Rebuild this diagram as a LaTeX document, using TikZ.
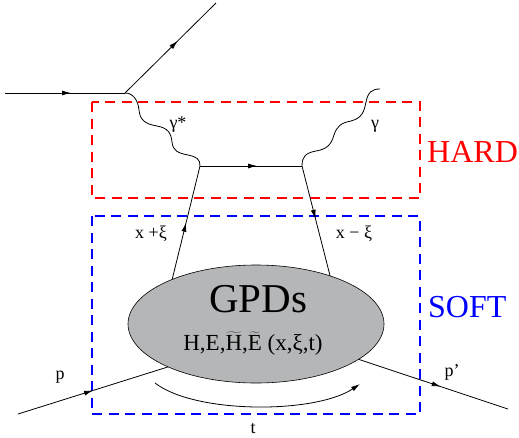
\documentclass[tikz,border=0pt]{standalone}
\usepackage{fontspec}
\setmainfont{Liberation Serif}
\usetikzlibrary{arrows.meta,decorations.markings,shapes.geometric}
\definecolor{gpdgray}{RGB}{180,182,184}
\begin{document}
\begin{tikzpicture}[x=1pt,y=-1pt,
  line/.style={line width=0.8pt, draw=black},
  midarrow/.style={postaction={decorate},decoration={markings,mark=at position #1 with {\arrow{Latex[length=9pt,width=5pt]}}}},
  midarrow/.default=0.55,
  hardbox/.style={draw=red, line width=2pt, dash pattern=on 10pt off 6.5pt},
  softbox/.style={draw=blue, line width=2pt, dash pattern=on 10pt off 6.5pt},
  lbl/.style={font=\fontsize{18}{21}\selectfont, inner sep=0pt, anchor=base},
  bigtxt/.style={inner sep=0pt, anchor=base west, font=\fontsize{32}{36}\selectfont}
]
\useasboundingbox (0,0) rectangle (519,437);

% regions
\draw[hardbox] (92,102) rectangle (420,198);
\draw[softbox] (92,216) rectangle (420,414);
\node[bigtxt, text=red] (hard) at (427,162) {HARD};
\node[bigtxt, text=blue] (soft) at (428,317) {SOFT};

% blob
\node[ellipse, draw, line width=0.6pt, fill=gpdgray, minimum width=256pt, minimum height=118pt, inner sep=0pt, outer sep=0pt] (gpd) at (256,324) {};
\node[inner sep=0pt, anchor=base, font=\fontsize{41}{45}\selectfont] (gt) at (258,312) {\smash{GPDs}};
\node[inner sep=0pt, anchor=base, font=\fontsize{23}{26}\selectfont] (gf) at (253,350) {H,E,\smash{$\widetilde{\hbox{H}}$},\smash{$\widetilde{\hbox{E}}$} (x,ξ,t)};

% points
\coordinate (ein) at (5,93);
\coordinate (ev) at (125,93);
\coordinate (eout) at (216,3);
\coordinate (qa) at (200,166);
\coordinate (qb) at (302,166);
\coordinate (gend) at (380,89);
\coordinate (pin) at (18,414);
\coordinate (pout) at (508,409);
\coordinate (tl) at (155,383);
\coordinate (tr) at (360,384);

% lepton
\draw[line, midarrow=0.55] (ein) -- (ev);
\draw[line, midarrow=0.58] (ev) -- (eout);
% virtual photon
\draw[line] (ev) .. controls (133,93) and (138,100) .. (139,110)
  .. controls (140,120) and (145,124) .. (157,126)
  .. controls (168,128) and (171,133) .. (172,142)
  .. controls (173,151) and (178,153) .. (188,155)
  .. controls (197,157) and (200,159) .. (qa);
% real photon
\draw[line] (qb) .. controls (302,156) and (306,153) .. (316,151)
  .. controls (327,149) and (331,145) .. (334,135)
  .. controls (337,126) and (341,123) .. (351,121)
  .. controls (362,118) and (364,112) .. (366,102)
  .. controls (368,92) and (372,89) .. (gend);
% quarks
\draw[line, midarrow=0.56] (qa) -- (qb);
\draw[line, midarrow=0.5] (gpd.152.6) -- (qa);
\draw[line, midarrow=0.48] (qb) -- (gpd.33);
% protons
\draw[line, midarrow=0.5] (pin) -- (gpd.206);
\draw[line, midarrow=0.55] (gpd.341) -- (pout);
% t arc
\draw[line, -{Latex[length=9pt,width=5pt]}] (tl) .. controls (195,414) and (315,414) .. (tr);

% labels
\node[lbl] (lxp) at (151,238) {x +ξ};
\node[lbl] (lxm) at (354,238) {x − ξ};
\node[lbl] (lgs) at (178,128) {γ*};
\node[lbl] (lg) at (375,128) {γ};
\node[lbl] (lp) at (60,379) {p};
\node[lbl] (lpp) at (452,376) {p’};
\node[lbl] (lt) at (253,433) {t};
\end{tikzpicture}
\end{document}
